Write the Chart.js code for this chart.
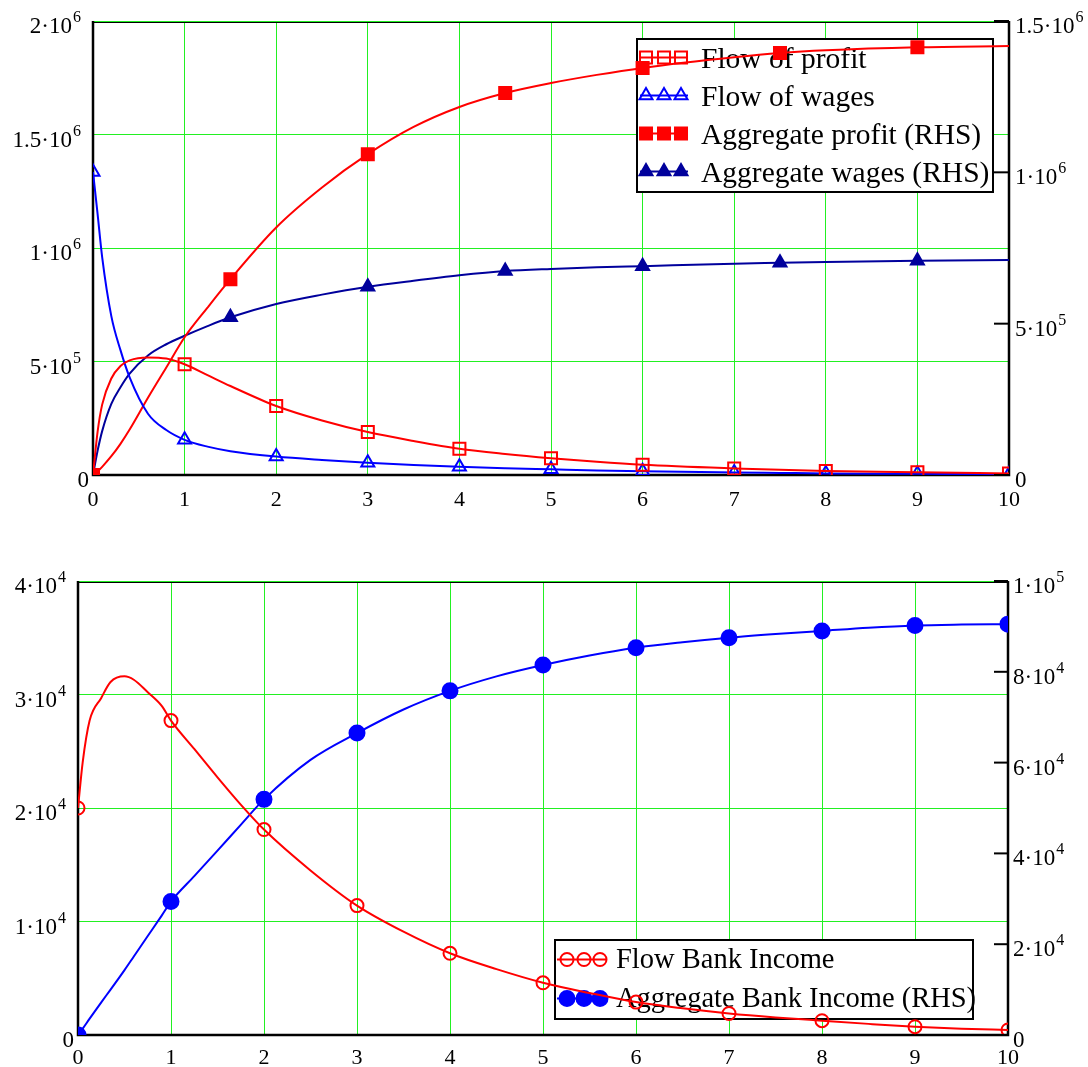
<!DOCTYPE html>
<html><head><meta charset="utf-8">
<script src="https://cdn.jsdelivr.net/npm/chart.js@4"></script>
<style>
html,body{margin:0;padding:0;background:#fff;}
#wrap{position:relative;width:1088px;height:1067px;overflow:hidden;}
.c{position:absolute;left:0;}
</style></head><body>
<div id="wrap">
<div class="c" style="top:0;width:1088px;height:530px"><canvas id="topChart"></canvas></div>
<div class="c" style="top:530px;width:1088px;height:537px"><canvas id="botChart"></canvas></div>
</div>
<script>
// ---------- DATA (top panel) ----------
const topX        = [0, 0.05, 0.1, 0.2, 0.3, 0.4, 0.6, 0.8, 1, 1.25, 1.5, 2, 2.5, 3, 3.5, 4, 4.5, 5, 5.5, 6, 7, 7.5, 8, 9, 10];
const flowProfit  = [0, 190000, 310000, 425000, 480000, 505000, 518000, 513000, 488000, 440000, 392000, 304000, 240000, 189000, 150000, 116000, 93000, 74000, 58000, 45000, 29000, 23000, 18000, 12000, 7000];
const flowWages   = [1335000, 1150000, 960000, 700000, 550000, 430000, 270000, 198000, 155000, 125000, 105000, 81000, 66000, 54000, 44000, 36000, 30000, 25000, 20000, 16000, 11000, 9000, 7000, 5000, 3000];
const aggProfit   = [0, 12000, 27000, 62000, 103000, 150000, 255000, 355000, 455000, 553000, 647000, 818000, 950000, 1060000, 1150000, 1216000, 1262000, 1295000, 1322000, 1345000, 1380000, 1394000, 1403000, 1413000, 1417000];
const aggWages    = [0, 80000, 145000, 235000, 290000, 335000, 395000, 432000, 460000, 492000, 521000, 565000, 596000, 622000, 642000, 660000, 674000, 681000, 686000, 690000, 698000, 701000, 704000, 708000, 710000];
const topFlowMarks = [0, 1, 2, 3, 4, 5, 6, 7, 8, 9, 10];
const topAggMarks  = [0, 1.5, 3, 4.5, 6, 7.5, 9];
const topLabels    = ["Flow of profit", "Flow of wages", "Aggregate profit (RHS)", "Aggregate wages (RHS)"];
const topXTicks    = [0, 1, 2, 3, 4, 5, 6, 7, 8, 9, 10];
const topLeftTicks = [0, 500000, 1000000, 1500000, 2000000];
const topRightTicks= [0, 500000, 1000000, 1500000];

// ---------- DATA (bottom panel) ----------
const botX      = [0, 0.05, 0.125, 0.25, 0.35, 0.5, 0.6, 0.75, 0.9, 1, 1.25, 1.5, 1.75, 2, 2.5, 3, 3.5, 4, 4.5, 5, 5.5, 6, 6.5, 7, 7.5, 8, 8.5, 9, 9.5, 10];
const flowBank  = [20000, 24000, 27700, 29700, 31100, 31600, 31300, 30200, 29000, 27700, 25200, 22700, 20300, 18100, 14500, 11400, 9100, 7200, 5800, 4600, 3700, 2900, 2350, 1900, 1550, 1260, 980, 730, 550, 440];
const aggBank   = [0, 1400, 3600, 7200, 10000, 14300, 17300, 21800, 26300, 29400, 35000, 40600, 46300, 51900, 60600, 66500, 71700, 75800, 79000, 81500, 83600, 85300, 86500, 87500, 88300, 89000, 89700, 90200, 90400, 90500];
const botMarks  = [0, 1, 2, 3, 4, 5, 6, 7, 8, 9, 10];
const botLabels = ["Flow Bank Income", "Aggregate Bank Income (RHS)"];
const botXTicks = [0, 1, 2, 3, 4, 5, 6, 7, 8, 9, 10];
const botLeftTicks  = [0, 10000, 20000, 30000, 40000];
const botRightTicks = [0, 20000, 40000, 60000, 80000, 100000];

// ---------- STYLE ----------
const FONT = '"Liberation Serif", "Times New Roman", serif';
const GRID = '#22f022';
const RED = '#ff0000', BLUE = '#0000ff', NAVY = '#00009c';
Chart.defaults.font.family = FONT;
Chart.defaults.color = '#000';

const pts = (xs, ys) => xs.map((x, i) => ({x: x, y: ys[i]}));
const markAt = (marks, r) => (c) => (c.raw && marks.includes(c.raw.x)) ? r : 0;

function sciParts(v) {
  if (v === 0) return {main: '0', sup: ''};
  const e = Math.floor(Math.log10(v) + 1e-9);
  const m = parseFloat((v / Math.pow(10, e)).toPrecision(3));
  return {main: m + '\u00B710', sup: String(e)};
}

const frameAndLegend = {
  id: 'frameAndLegend',
  beforeDatasetsDraw(chart, args, o) {
    const ctx = chart.ctx, a = chart.chartArea;
    ctx.save();
    ctx.strokeStyle = '#000';
    ctx.lineWidth = 1;
    ctx.beginPath(); ctx.moveTo(a.left, a.top + 1.5); ctx.lineTo(a.right, a.top + 1.5); ctx.stroke();
    ctx.lineWidth = 2.5;
    ctx.beginPath();
    ctx.moveTo(a.left, a.top); ctx.lineTo(a.left, a.bottom); ctx.lineTo(a.right, a.bottom); ctx.lineTo(a.right, a.top);
    ctx.stroke();
    // legend box
    ctx.fillStyle = '#fff';
    ctx.fillRect(o.x, o.y, o.w, o.h);
    ctx.lineWidth = 2;
    ctx.strokeStyle = '#000';
    ctx.strokeRect(o.x, o.y, o.w, o.h);
    chart.data.datasets.forEach((ds, i) => {
      const base = o.base0 + i * o.step;
      const cy = base - o.iconOff;
      ctx.strokeStyle = ds.borderColor;
      ctx.lineWidth = ds.borderWidth;
      ctx.beginPath(); ctx.moveTo(o.iconX0, cy); ctx.lineTo(o.iconX1, cy); ctx.stroke();
      o.iconMarks.forEach(mx => {
        ctx.fillStyle = ds.pointBackgroundColor;
        ctx.strokeStyle = ds.pointBorderColor;
        ctx.lineWidth = ds.pointBorderWidth;
        Chart.helpers.drawPoint(ctx, {pointStyle: ds.pointStyle, radius: ds.markRadius, borderWidth: ds.pointBorderWidth, rotation: 0}, mx, cy);
      });
      ctx.fillStyle = '#000';
      ctx.font = o.fontSize + 'px ' + FONT;
      ctx.textAlign = 'left';
      ctx.textBaseline = 'alphabetic';
      ctx.fillText(ds.label, o.textX, base);
    });
    ctx.restore();
  },
  afterDraw(chart, args, o) {
    const ctx = chart.ctx;
    ctx.save();
    ctx.fillStyle = '#000';
    ctx.textBaseline = 'alphabetic';
    ['yL', 'yR'].forEach(id => {
      const sc = chart.scales[id];
      sc.ticks.forEach(t => {
        const y = sc.getPixelForValue(t.value);
        const p = sciParts(t.value);
        ctx.font = o.mainSize + 'px ' + FONT;
        const wm = ctx.measureText(p.main).width;
        ctx.font = o.supSize + 'px ' + FONT;
        const ws = p.sup ? ctx.measureText(p.sup).width + 1 : 0;
        let x0;
        if (id === 'yL') {
          const right = sc.right - (p.sup ? o.gapSci : o.gapPlain);
          x0 = right - wm - ws;
        } else {
          x0 = sc.left + o.gapRight;
          // inward tick mark
          ctx.strokeStyle = '#000'; ctx.lineWidth = 2;
          ctx.beginPath(); ctx.moveTo(sc.left - o.tickLen, y); ctx.lineTo(sc.left, y); ctx.stroke();
        }
        ctx.font = o.mainSize + 'px ' + FONT;
        ctx.textAlign = 'left';
        ctx.fillText(p.main, x0, y + o.mainDy);
        if (p.sup) {
          ctx.font = o.supSize + 'px ' + FONT;
          ctx.fillText(p.sup, x0 + wm + 1, y + o.supDy);
        }
      });
    });
    ctx.restore();
  }
};

function makeScales(xTicks, lTicks, rTicks, lMax, rMax, wL, wR, hX, xPad) {
  return {
    x: {
      type: 'linear', min: 0, max: 10,
      afterBuildTicks: s => { s.ticks = xTicks.map(v => ({value: v})); },
      afterFit: s => { s.height = hX; },
      grid: {color: GRID, lineWidth: 1, drawTicks: false},
      border: {display: false},
      ticks: {color: '#000', font: {size: 22, family: FONT}, padding: xPad, maxRotation: 0, autoSkip: false}
    },
    yL: {
      type: 'linear', position: 'left', min: 0, max: lMax,
      afterBuildTicks: s => { s.ticks = lTicks.map(v => ({value: v})); },
      afterFit: s => { s.width = wL; },
      grid: {color: GRID, lineWidth: 1, drawTicks: false},
      border: {display: false},
      ticks: {display: false}
    },
    yR: {
      type: 'linear', position: 'right', min: 0, max: rMax,
      afterBuildTicks: s => { s.ticks = rTicks.map(v => ({value: v})); },
      afterFit: s => { s.width = wR; },
      grid: {display: false, drawTicks: false},
      border: {display: false},
      ticks: {display: false}
    }
  };
}

function ds(label, xs, ys, axis, color, style, filled, r, marks) {
  return {
    label: label, data: pts(xs, ys), yAxisID: axis,
    borderColor: color, borderWidth: 2,
    cubicInterpolationMode: 'monotone',
    pointStyle: style,
    pointBackgroundColor: filled ? color : 'rgba(0,0,0,0)',
    pointBorderColor: color, pointBorderWidth: 2,
    pointRadius: markAt(marks, r), pointHoverRadius: 0,
    markRadius: r
  };
}

const commonOpts = {
  responsive: true, maintainAspectRatio: false, animation: false, events: []
};

new Chart(document.getElementById('topChart'), {
  type: 'line',
  data: {
    datasets: [
      ds(topLabels[0], topX, flowProfit, 'yL', RED, 'rect', false, 8.5, topFlowMarks),
      ds(topLabels[1], topX, flowWages, 'yL', BLUE, 'triangle', false, 7.5, topFlowMarks),
      ds(topLabels[2], topX, aggProfit, 'yR', RED, 'rect', true, 8.5, topAggMarks),
      ds(topLabels[3], topX, aggWages, 'yR', NAVY, 'triangle', true, 7.5, topAggMarks)
    ]
  },
  options: Object.assign({}, commonOpts, {
    layout: {padding: {top: 21, left: 0, right: 0, bottom: 0}},
    scales: makeScales(topXTicks, topLeftTicks, topRightTicks, 2000000, 1500000, 93, 79, 55, 12),
    plugins: {
      legend: {display: false}, tooltip: {enabled: false},
      frameAndLegend: {
        x: 637, y: 39, w: 356, h: 153,
        base0: 68, step: 38, iconOff: 10.5,
        iconX0: 640, iconX1: 688, iconMarks: [646, 664, 681],
        textX: 701, fontSize: 29.5,
        mainSize: 23, supSize: 16, mainDy: 12, supDy: 1,
        gapSci: 12, gapPlain: 4, gapRight: 6, tickLen: 15
      }
    }
  }),
  plugins: [frameAndLegend]
});

new Chart(document.getElementById('botChart'), {
  type: 'line',
  data: {
    datasets: [
      ds(botLabels[0], botX, flowBank, 'yL', RED, 'circle', false, 6.5, botMarks),
      ds(botLabels[1], botX, aggBank, 'yR', BLUE, 'circle', true, 7.5, botMarks)
    ]
  },
  options: Object.assign({}, commonOpts, {
    layout: {padding: {top: 51, left: 0, right: 0, bottom: 0}},
    scales: makeScales(botXTicks, botLeftTicks, botRightTicks, 40000, 100000, 78, 80, 32, 10),
    plugins: {
      legend: {display: false}, tooltip: {enabled: false},
      frameAndLegend: {
        x: 555 , y: 410, w: 418, h: 79,
        base0: 438, step: 39, iconOff: 8.5,
        iconX0: 557, iconX1: 607, iconMarks: [567, 584, 600],
        textX: 616, fontSize: 28.5,
        mainSize: 23, supSize: 16, mainDy: 12, supDy: 1,
        gapSci: 12, gapPlain: 4, gapRight: 5, tickLen: 14
      }
    }
  }),
  plugins: [frameAndLegend]
});
</script>
</body></html>
